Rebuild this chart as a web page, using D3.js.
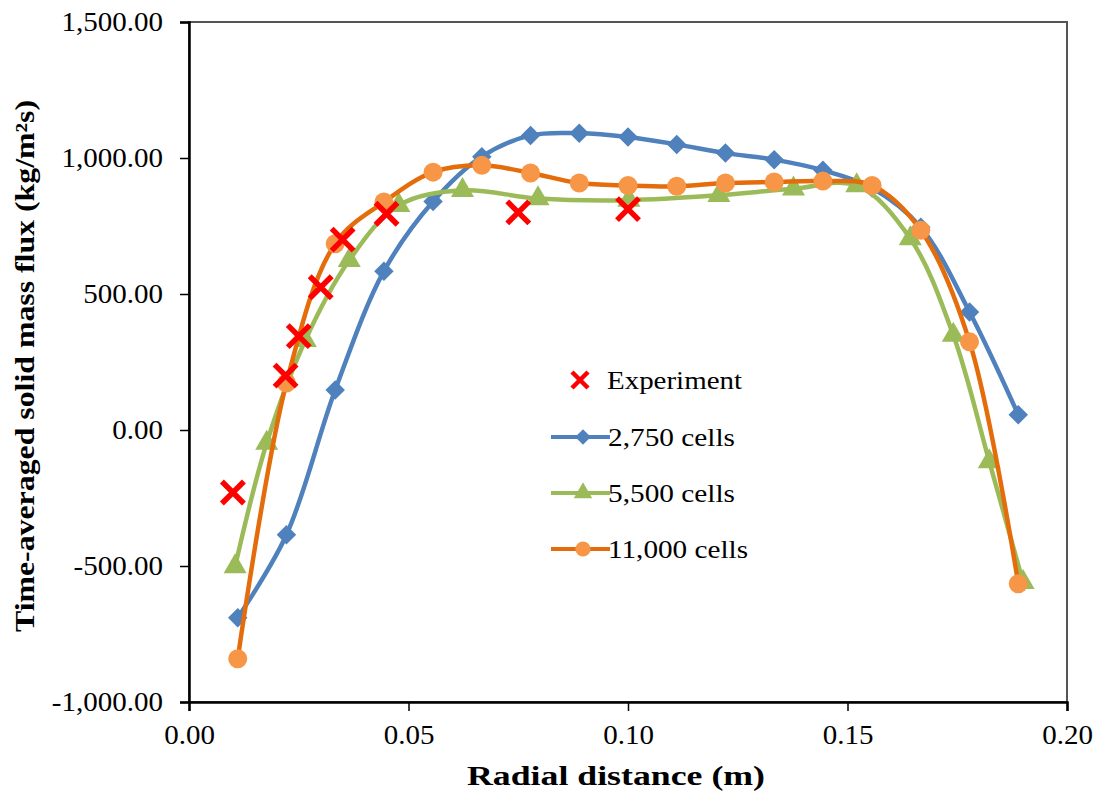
<!DOCTYPE html>
<html>
<head>
<meta charset="utf-8">
<script src="https://cdn.jsdelivr.net/npm/d3@7"></script>
<style>
  body { margin: 0; background: #fff; }
  svg text { font-family: "Times New Roman", "Liberation Serif", "DejaVu Serif", serif; }
</style>
</head>
<body>
<svg id="chart" width="1106" height="798"></svg>
<script>
// experiment (red crosses)
let expX = [0.010, 0.022, 0.025, 0.030, 0.035, 0.045, 0.075, 0.100];
let expY = [-230, 200, 345, 525, 700, 795, 800, 812];

// 2,750 cells and 11,000 cells share the same radial positions
let gridX = [0.0111, 0.0222, 0.0333, 0.0444, 0.0556, 0.0667, 0.0778, 0.0889, 0.1000,
             0.1111, 0.1222, 0.1333, 0.1444, 0.1556, 0.1667, 0.1778, 0.1889];
let coarseY = [-690, -385, 147, 584, 840, 1005, 1083, 1091, 1077,
               1050, 1018, 994, 955, 890, 745, 434, 56];
let fineY = [-841, 173, 685, 838, 948, 973, 945, 908, 899,
             896, 908, 912, 915, 899, 734, 324, -565];

// 5,500 cells
let medX = [0.0105, 0.0177, 0.0265, 0.0365, 0.0478, 0.0623, 0.0795, 0.1002,
            0.1207, 0.1377, 0.1521, 0.1643, 0.1741, 0.1823, 0.1900];
let medY = [-502, -48, 330, 624, 826, 881, 851, 845,
            863, 887, 899, 704, 349, -116, -560];

let xTicks = [0, 0.05, 0.10, 0.15, 0.20];
let yTicks = [-1000, -500, 0, 500, 1000, 1500];

let serif = "'Times New Roman', 'Liberation Serif', 'DejaVu Serif', serif";

// rough Times widths (em) so that the fallback serif font can be fitted to the same length
function timesWidth(str, size) {
    let w = 0;
    for (let c of str) {
        if (/[0-9]/.test(c)) w += 0.5;
        else if (c == "," || c == "." || c == " ") w += 0.25;
        else if (c == "-") w += 0.333;
        else if (c == "l" || c == "i") w += 0.278;
        else w += 0.444;
    }
    return w * size;
}

let svg = d3.select("#chart");
let margin = {top: 22, right: 39, bottom: 96, left: 189};
let width = 1106 - margin.left - margin.right,
    height = 798 - margin.top - margin.bottom;

let x = d3.scaleLinear().domain([0, 0.2]).range([0, width]);
let y = d3.scaleLinear().domain([-1000, 1500]).range([height, 0]);

let g = svg.append("g")
    .attr("transform", "translate(" + margin.left + "," + margin.top + ")");

// plot area border
g.append("rect")
    .attr("width", width).attr("height", height)
    .attr("fill", "none").attr("stroke", "#555").attr("stroke-width", 2);

let yFmt = d => d3.format(",.2f")(d).replace("\u2212", "-");
let xFmt = d3.format(".2f");

let yAxis = g.append("g")
    .call(d3.axisLeft(y).tickValues(yTicks).tickFormat(yFmt).tickSize(9).tickPadding(17));
let xAxis = g.append("g")
    .attr("transform", "translate(0," + height + ")")
    .call(d3.axisBottom(x).tickValues(xTicks).tickFormat(xFmt).tickSize(9).tickPadding(14));

[yAxis, xAxis].forEach(a => {
    a.attr("font-family", serif);
    a.select(".domain").attr("stroke", "#000").attr("stroke-width", 2.5);
    a.selectAll(".tick line").attr("stroke", "#000").attr("stroke-width", 1.5);
    a.selectAll(".tick text").attr("fill", "#000")
        .attr("font-family", serif).attr("font-size", 27)
        .attr("lengthAdjust", "spacingAndGlyphs");
});
yAxis.selectAll(".tick text").attr("textLength", d => timesWidth(yFmt(d), 29));
xAxis.selectAll(".tick text").attr("textLength", d => timesWidth(xFmt(d), 29));

// axis titles
svg.append("text")
    .attr("x", 616).attr("y", 785)
    .attr("text-anchor", "middle")
    .attr("font-family", serif).attr("font-weight", "bold").attr("font-size", 27)
    .attr("textLength", 298).attr("lengthAdjust", "spacingAndGlyphs")
    .text("Radial distance (m)");

svg.append("text")
    .attr("transform", "translate(34,366) rotate(-90)")
    .attr("text-anchor", "middle")
    .attr("font-family", serif).attr("font-weight", "bold").attr("font-size", 27)
    .attr("textLength", 532).attr("lengthAdjust", "spacingAndGlyphs")
    .text("Time-averaged solid mass flux (kg/m\u00B2s)");

let line = d3.line()
    .x(d => x(d[0]))
    .y(d => y(d[1]))
    .curve(d3.curveCatmullRom.alpha(0.5));

let series = [
    {name: "2,750 cells", xs: gridX, ys: coarseY, line: "#4f81bd", fill: "#4f81bd", marker: "diamond", len: 127},
    {name: "5,500 cells", xs: medX, ys: medY, line: "#9bbb59", fill: "#9bbb59", marker: "triangle", len: 127},
    {name: "11,000 cells", xs: gridX, ys: fineY, line: "#e46c0a", fill: "#f79646", marker: "circle", len: 140}
];

function drawMarker(sel, kind, color, k) {
    k = k || 1;
    if (kind == "circle") {
        sel.append("circle").attr("r", 9.5 * k).attr("fill", color);
    } else if (kind == "diamond") {
        sel.append("path").attr("d", d3.symbol().type(d3.symbolSquare).size(190 * k * k)())
            .attr("transform", "rotate(45)").attr("fill", color);
    } else {
        sel.append("path").attr("d", d3.symbol().type(d3.symbolTriangle).size(230 * k * k)()).attr("fill", color);
    }
}

series.forEach(s => {
    let pts = s.xs.map((v, i) => [v, s.ys[i]]);
    g.append("path")
        .datum(pts)
        .attr("d", line)
        .attr("fill", "none")
        .attr("stroke", s.line)
        .attr("stroke-width", 4.5);
    g.selectAll(null)
        .data(pts)
        .enter().append("g")
        .attr("transform", d => "translate(" + x(d[0]) + "," + y(d[1]) + ")")
        .each(function() { drawMarker(d3.select(this), s.marker, s.fill); });
});

function drawCross(sel, size, w) {
    sel.append("path")
        .attr("d", "M" + (-size) + "," + (-size) + "L" + size + "," + size +
                   "M" + (-size) + "," + size + "L" + size + "," + (-size))
        .attr("stroke", "#ff0000").attr("stroke-width", w).attr("fill", "none");
}

g.selectAll(null)
    .data(expX.map((v, i) => [v, expY[i]]))
    .enter().append("g")
    .attr("transform", d => "translate(" + x(d[0]) + "," + y(d[1]) + ")")
    .each(function() { drawCross(d3.select(this), 11, 5.5); });

// legend
let legend = svg.append("g");
let lg = legend.append("g").attr("transform", "translate(580,380)");
drawCross(lg, 8, 4.5);
legend.append("text").attr("x", 607).attr("y", 380).attr("dy", "0.35em")
    .attr("font-family", serif).attr("font-size", 26)
    .attr("textLength", 135).attr("lengthAdjust", "spacingAndGlyphs")
    .text("Experiment");

series.forEach((s, i) => {
    let ly = 437 + i * 56;
    legend.append("line")
        .attr("x1", 551).attr("x2", 610).attr("y1", ly).attr("y2", ly)
        .attr("stroke", s.line).attr("stroke-width", 4);
    let mg = legend.append("g").attr("transform", "translate(583," + ly + ")");
    drawMarker(mg, s.marker, s.fill, 0.8);
    legend.append("text").attr("x", 608).attr("y", ly).attr("dy", "0.35em")
        .attr("font-family", serif).attr("font-size", 26)
        .attr("textLength", s.len).attr("lengthAdjust", "spacingAndGlyphs")
        .text(s.name);
});
</script>
</body>
</html>
